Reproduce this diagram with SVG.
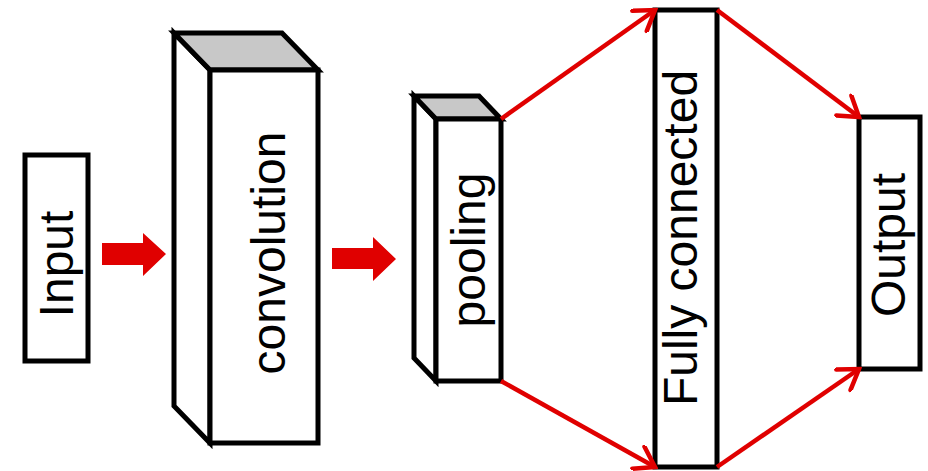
<svg xmlns="http://www.w3.org/2000/svg" width="928" height="471" viewBox="0 0 928 471">
  <style>
    .box { fill: #ffffff; stroke: #000000; stroke-width: 5; stroke-linejoin: miter; }
    .top { fill: #c8c8c8; stroke: #000000; stroke-width: 5; stroke-linejoin: miter; }
    .label { font-family: "Liberation Sans", Arial, sans-serif; font-size: 48px; fill: #000000; text-anchor: middle; }
    .flow { fill: #e00000; stroke: none; }
    .link { fill: none; stroke: #e00000; stroke-width: 4.5; marker-end: url(#ah); }
  </style>
  <defs>
    <marker id="ah" viewBox="0 0 28 28" refX="25" refY="14" markerWidth="28" markerHeight="28" markerUnits="userSpaceOnUse" orient="auto">
      <path d="M6,1.5 L25,14 L6,26.5" fill="none" stroke="#e00000" stroke-width="4.5" stroke-linecap="round"/>
    </marker>
  </defs>
  <rect width="928" height="471" fill="#ffffff"/>

  <g id="input">
    <rect class="box" x="25" y="155" width="63" height="206"/>
    <text class="label" transform="translate(73,264) rotate(-90)">Input</text>
  </g>

  <g id="convolution">
    <polygon class="box" points="174,33 210,70 210,443 174,406"/>
    <polygon class="top" points="174,33 282,33 318,70 210,70"/>
    <rect class="box" x="210" y="70" width="108" height="373"/>
    <text class="label" transform="translate(285,253) rotate(-90)">convolution</text>
  </g>

  <g id="pooling">
    <polygon class="box" points="414,96 436,119 436,381 414,358"/>
    <polygon class="top" points="414,96 479,96 501,119 436,119"/>
    <rect class="box" x="436" y="119" width="65" height="262"/>
    <text class="label" transform="translate(485,250) rotate(-90)">pooling</text>
  </g>

  <g id="fully-connected">
    <rect class="box" x="655" y="10" width="62" height="457"/>
    <text class="label" transform="translate(697,238) rotate(-90)">Fully connected</text>
  </g>

  <g id="output">
    <rect class="box" x="859" y="117" width="61" height="252"/>
    <text class="label" transform="translate(905,245) rotate(-90)">Output</text>
  </g>

  <g id="connectors">
    <polygon class="flow" points="102,243 143,243 143,233 166,254 143,276 143,265 102,265"/>
    <polygon class="flow" points="332,248 373,248 373,237 396,259 373,281 373,269 332,269"/>
    <line class="link" x1="501" y1="119" x2="655" y2="10"/>
    <line class="link" x1="501" y1="381" x2="655" y2="467"/>
    <line class="link" x1="717" y1="10" x2="859" y2="117"/>
    <line class="link" x1="717" y1="467" x2="859" y2="369"/>
  </g>
</svg>
